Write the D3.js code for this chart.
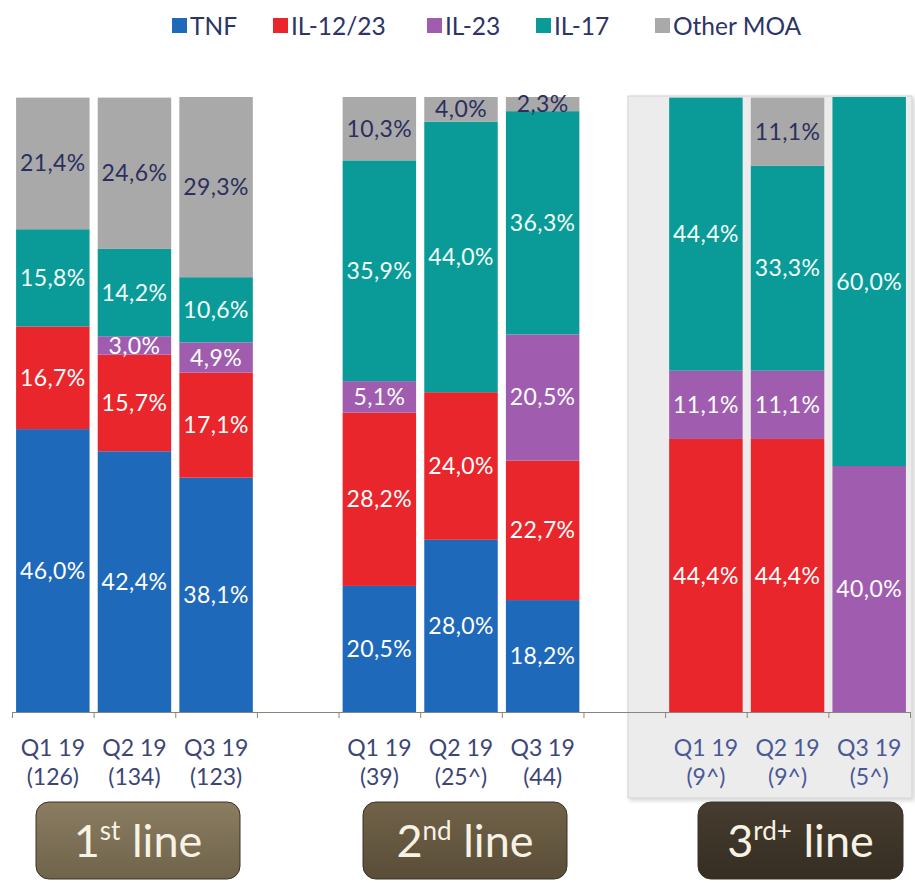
<!DOCTYPE html>
<html><head><meta charset="utf-8">
<script src="https://cdnjs.cloudflare.com/ajax/libs/d3/7.8.5/d3.min.js"></script>
<style>body{margin:0;background:#fff}svg{display:block}</style>
</head><body>
<script>
const groups = ["1st line","2nd line","3rd+ line"];
const quarters = ["Q1 19","Q2 19","Q3 19"];
const counts = ["(126)","(134)","(123)","(39)","(25^)","(44)","(9^)","(9^)","(5^)"];
const seriesNames = ["TNF","IL-12/23","IL-23","IL-17","Other MOA"];
const TNF    = [46.0,42.4,38.1, 20.5,28.0,18.2, 0,0,0];
const IL1223 = [16.7,15.7,17.1, 28.2,24.0,22.7, 44.4,44.4,0];
const IL23   = [0,3.0,4.9, 5.1,0,20.5, 11.1,11.1,40.0];
const IL17   = [15.8,14.2,10.6, 35.9,44.0,36.3, 44.4,33.3,60.0];
const OTHER  = [21.4,24.6,29.3, 10.3,4.0,2.3, 0,11.1,0];

const colors = ["#1f69ba","#e9262b","#a05daf","#0a9b98","#a9a9a9"];
const labelColors = ["#fff","#fff","#fff","#f2fffb","#2c2f5e"];
const font = "Lato, 'Open Sans', sans-serif";

const W=915,H=883;
const svg=d3.select("body").append("svg").attr("width",W).attr("height",H).style("font-family",font);

const slots=[];
groups.forEach((g,gi)=>{quarters.forEach((q,qi)=>slots.push("b"+(gi*3+qi))); if(gi<2) slots.push("gap"+gi);});
const x=d3.scaleBand().domain(slots).range([12,910]).paddingInner(0.1).paddingOuter(0.05);
const y=d3.scaleLinear().domain([0,100]).range([712,97]);

const rows=TNF.map((v,i)=>({key:"b"+i,"TNF":TNF[i],"IL-12/23":IL1223[i],"IL-23":IL23[i],"IL-17":IL17[i],"Other MOA":OTHER[i]}));
const stack=d3.stack().keys(seriesNames)(rows);

const defs=svg.append("defs");
const f=defs.append("filter").attr("id","sh").attr("x","-5%").attr("y","-5%").attr("width","115%").attr("height","115%");
f.append("feDropShadow").attr("dx",2).attr("dy",2).attr("stdDeviation",2).attr("flood-color","#000").attr("flood-opacity",0.18);
svg.append("rect").attr("x",628).attr("y",96).attr("width",284).attr("height",702)
  .attr("fill","#ececec").attr("stroke","#d2d2d2").attr("stroke-width",1).attr("filter","url(#sh)");

const layer=svg.selectAll("g.layer").data(stack).join("g").attr("class","layer")
  .attr("fill",(d,i)=>colors[i]);
layer.selectAll("rect").data(d=>d).join("rect")
  .attr("x",d=>x(d.data.key)).attr("width",x.bandwidth())
  .attr("y",d=>y(d[1])).attr("height",d=>y(d[0])-y(d[1]));

stack.forEach((s,si)=>{
  svg.append("g").selectAll("text").data(s.filter(d=>d[1]-d[0]>0)).join("text")
    .attr("x",d=>x(d.data.key)+x.bandwidth()/2)
    .attr("y",d=>(y(d[0])+y(d[1]))/2)
    .attr("dy","0.35em").attr("text-anchor","middle")
    .attr("font-size",23).attr("letter-spacing",0.4).attr("fill",labelColors[si])
    .text(d=>(d[1]-d[0]).toFixed(1).replace(".",",")+"%");
});

const xl=d3.scaleLinear().domain([0,11]).range([12,910]);
const ax=svg.append("g").attr("transform","translate(0,712)")
  .call(d3.axisBottom(xl).tickValues(d3.range(12)).tickFormat("").tickSize(6).tickSizeOuter(0));
ax.select(".domain").attr("stroke","#8c8478").attr("stroke-width",1.2);
ax.selectAll(".tick line").attr("stroke","#8c8478");

const barKeys=slots.filter(s=>s[0]==="b");
const labCol=(i)=>i>=6?"#4a5896":"#3c4676";
const cl=svg.append("g").selectAll("g").data(barKeys).join("g")
  .attr("transform",d=>`translate(${x(d)+x.bandwidth()/2},0)`);
cl.append("text").attr("y",756).attr("text-anchor","middle").attr("font-size",23).attr("fill",(d,i)=>labCol(i))
  .text((d,i)=>quarters[i%3]);
cl.append("text").attr("y",785).attr("text-anchor","middle").attr("font-size",23).attr("fill",(d,i)=>labCol(i))
  .text((d,i)=>counts[i]);

const btn=[{x0:36,x1:240,c1:"#8a7d61",c2:"#6f634b"},{x0:363,x1:567,c1:"#716349",c2:"#5a4d38"},{x0:698,x1:903,c1:"#463c2f",c2:"#362e23"}];
const sup=["st","nd","rd+"];const main=["1","2","3"];
btn.forEach((b,i)=>{
  const gid="bg"+i;
  const lg=defs.append("linearGradient").attr("id",gid).attr("x1",0).attr("y1",0).attr("x2",0).attr("y2",1);
  lg.append("stop").attr("offset","0%").attr("stop-color",b.c1);
  lg.append("stop").attr("offset","100%").attr("stop-color",b.c2);
  svg.append("rect").attr("x",b.x0).attr("y",802).attr("width",b.x1-b.x0).attr("height",77).attr("rx",13)
    .attr("fill",`url(#${gid})`).attr("stroke","#3a3226").attr("stroke-width",1);
  const t=svg.append("text").attr("x",(b.x0+b.x1)/2).attr("y",857).attr("text-anchor","middle")
    .attr("font-size",45).attr("fill","#f7f2e4");
  t.append("tspan").text(main[i]);
  t.append("tspan").attr("font-size",26).attr("dy",-17).text(sup[i]);
  t.append("tspan").attr("dy",17).text(" "+groups[i].split(" ")[1]);
});

const legX=[172,273,427,536,655];
const lg=svg.append("g").selectAll("g").data(seriesNames).join("g")
  .attr("transform",(d,i)=>`translate(${legX[i]},0)`);
lg.append("rect").attr("y",18).attr("width",15).attr("height",15).attr("fill",(d,i)=>colors[i]);
lg.append("text").attr("x",18).attr("y",26).attr("dy","0.35em").attr("font-size",24.5).attr("fill","#2c3566").text(d=>d);
</script>
</body></html>
